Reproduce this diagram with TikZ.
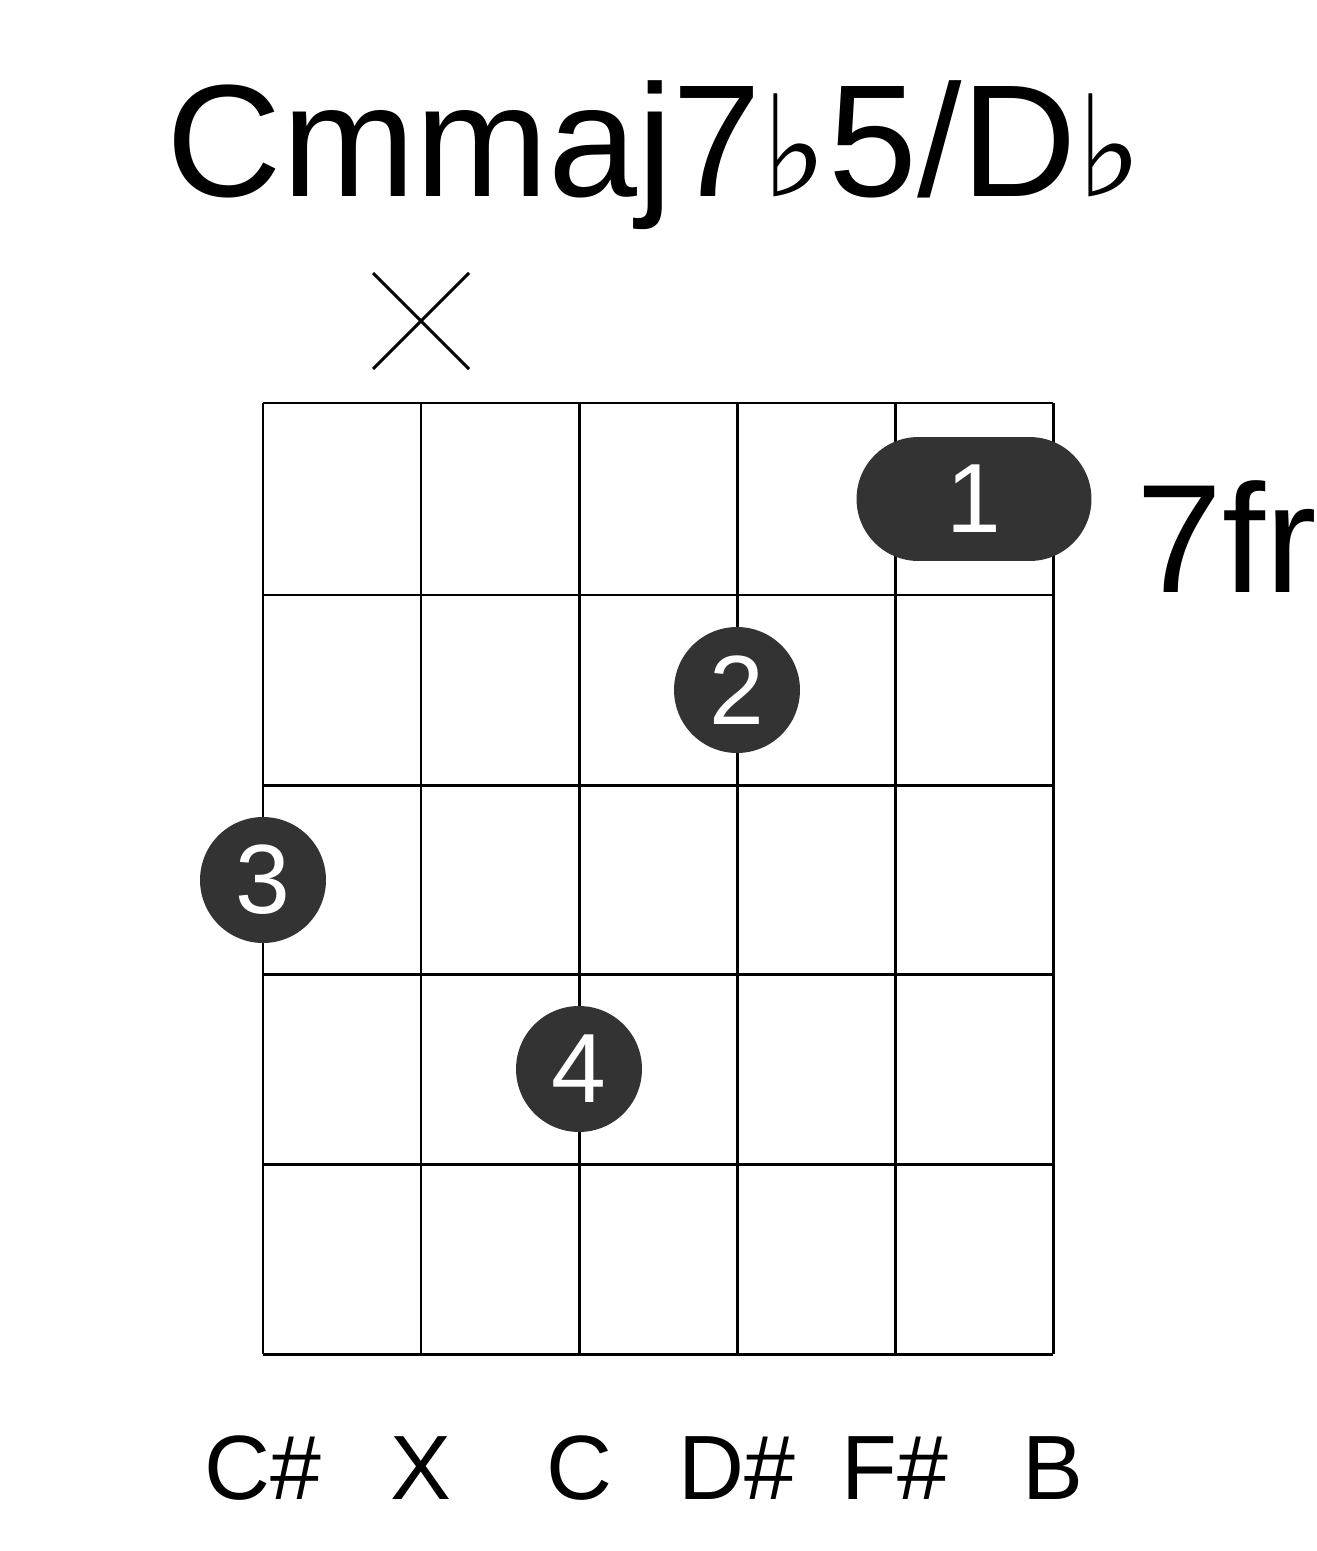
\documentclass[tikz,border=0pt]{standalone}
\usepackage{fontspec}
\setmainfont{Liberation Sans}
\newfontfamily\symfont{DejaVu Sans}
\definecolor{dotgray}{HTML}{333333}
\tikzset{
  gridline/.style={line width=1.7pt},
  fingerdot/.style={circle,fill=dotgray,minimum size=2.52cm,inner sep=0pt,text=white,font=\fontsize{56}{56}\selectfont},
  notelabel/.style={font=\fontsize{52}{52}\selectfont}
}
\begin{document}
\begin{tikzpicture}[x=0.02cm,y=-0.02cm]
  \useasboundingbox (0,0) rectangle (1317,1551);
  % Grid
  \foreach \x in {263,421,579,737,895,1053}
    \draw[gridline] (\x,403) -- (\x,1354);
  \foreach \y in {403,595,785,974,1164,1354}
    \draw[gridline] (263,\y) -- (1053,\y);

  % Title and fret number
  \node (title) at (655,155) {\fontsize{91}{91}\selectfont Cmmaj7{\symfont\fontsize{80}{80}\selectfont ♭}5/D{\symfont\fontsize{80}{80}\selectfont ♭}};
  \node[anchor=west] (fret) at (1130,537) {\fontsize{88}{88}\selectfont 7fr};

  % Muted string
  \draw[line width=1.7pt] (373,273) -- (469,369) (373,369) -- (469,273);

  % Fingers
  \node[fill=dotgray,rounded corners=1.24cm,minimum width=4.7cm,minimum height=2.48cm,text=white,font=\fontsize{56}{56}\selectfont] (f1) at (974,499) {1};
  \node[fingerdot] (f2) at (737,690) {2};
  \node[fingerdot] (f3) at (263,880) {3};
  \node[fingerdot] (f4) at (579,1069) {4};

  % Notes
  \foreach \x/\n [count=\i] in {263/C\#,421/X,579/C,737/D\#,895/F\#,1053/B}
    \node[notelabel] (n\i) at (\x,1468) {\n};
\end{tikzpicture}
\end{document}
